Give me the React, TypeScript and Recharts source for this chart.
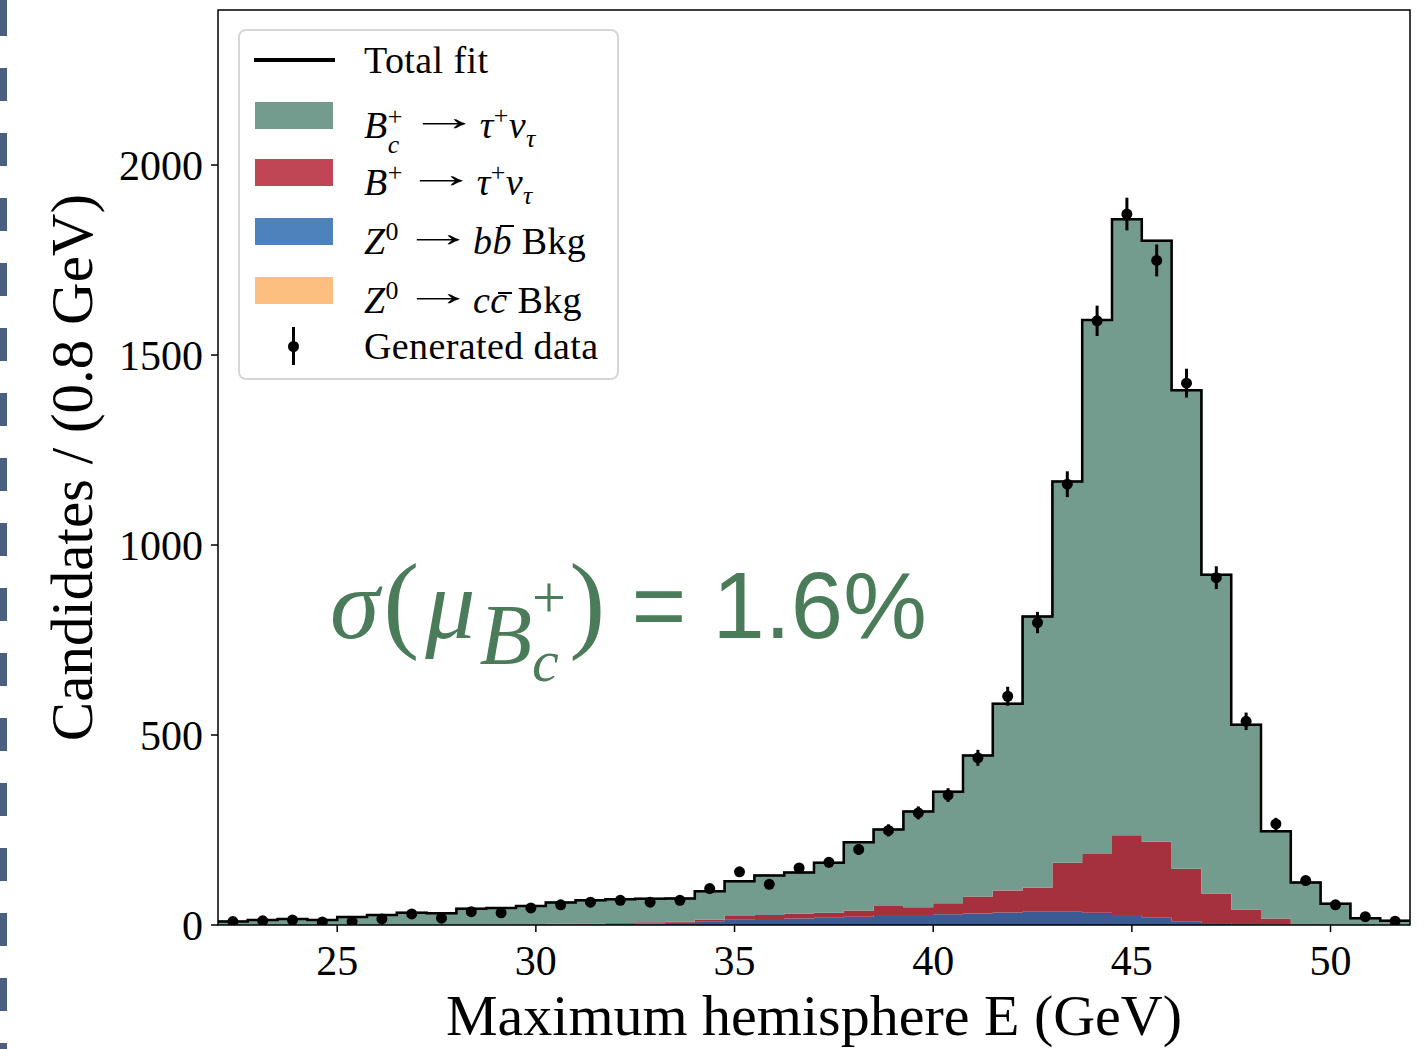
import React from "react";
import {
  ComposedChart, Area, Line, Scatter, ErrorBar, XAxis, YAxis, ReferenceArea, Label,
} from "recharts";

// 40 bins of 0.75 GeV between 22 and 52 GeV
const binStart = 22;
const binWidth = 0.75;

// stacked fit components, candidates per bin
const fitBc = [
  9, 13, 16, 13, 21, 26, 32, 31, 43, 44,
  48, 56, 61, 63, 62, 61, 75, 91, 104, 108,
  132, 180, 201, 252, 294, 371, 491, 714, 1003, 1405,
  1621, 1582, 1259, 839, 486, 230, 110, 56, 18, 11,
];
const fitBu = [
  0, 0, 0, 0, 0, 0, 0, 0, 0, 1,
  1, 2, 2, 2, 3, 3, 4, 10, 10, 13,
  13, 16, 24, 21, 29, 45, 58, 63, 129, 155,
  210, 200, 138, 78, 39, 16, 2, 0, 0, 0,
];
const fitZbb = [
  0, 0, 0, 0, 0, 0, 0, 0, 0, 0,
  1, 1, 2, 3, 4, 6, 10, 14, 16, 17,
  19, 22, 26, 26, 28, 30, 33, 35, 35, 32,
  26, 19, 10, 5, 2, 1, 0, 0, 0, 0,
];
const fitZcc = [
  0, 0, 0, 0, 0, 0, 0, 0, 0, 0,
  0, 0, 0, 0, 0, 0, 0, 0, 0, 0,
  0, 0, 0, 0, 0, 0, 0, 0, 0, 0,
  0, 0, 0, 0, 0, 0, 0, 0, 0, 0,
];

// generated pseudo-data with its errors
const dataCounts = [
  9, 11, 13, 8, 9, 16, 29, 18, 35, 32,
  45, 53, 60, 65, 60, 65, 96, 140, 107, 150,
  165, 199, 249, 295, 342, 440, 602, 796, 1160, 1590,
  1871, 1749, 1426, 914, 536, 266, 117, 53, 22, 10,
];
const dataErrors = [
  3, 3, 4, 3, 3, 4, 5, 4, 6, 6,
  7, 7, 8, 8, 8, 8, 10, 12, 10, 12,
  13, 14, 16, 17, 18, 21, 25, 28, 34, 40,
  43, 42, 38, 30, 23, 16, 11, 7, 5, 3,
];

const xTicks = [25, 30, 35, 40, 45, 50];
const yTicks = [0, 500, 1000, 1500, 2000];
const yMax = 2408;

const serif = '"Liberation Serif", "DejaVu Serif", serif';
const sans = '"Liberation Sans", Arial, sans-serif';

const nBins = fitBc.length;
// one row per bin edge; the last edge repeats the last bin so the step closes at 52
const histRows = Array.from({ length: nBins + 1 }, (_, i) => {
  const j = Math.min(i, nBins - 1);
  return {
    x: binStart + i * binWidth,
    zcc: fitZcc[j],
    zbb: fitZbb[j],
    bu: fitBu[j],
    bc: fitBc[j],
    fit: fitZcc[j] + fitZbb[j] + fitBu[j] + fitBc[j],
  };
});
const dataRows = dataCounts.map((y, i) => ({
  x: binStart + (i + 0.5) * binWidth,
  y,
  err: dataErrors[i],
}));

const tickStyle = { fill: "#000", fontSize: 42, fontFamily: serif };
const tickLine = { stroke: "#000", strokeWidth: 1.5 };

const Dot = (p: any) => <circle cx={p.cx} cy={p.cy} r={5.5} fill="#000" />;

const YLabel = (p: any) => {
  const vb = p.viewBox || { y: 10, height: 915 };
  const cy = vb.y + vb.height / 2;
  return (
    <text x={92} y={cy} transform={`rotate(-90, 92, ${cy})`} textAnchor="middle"
      style={{ fontSize: 59, fontFamily: serif, fill: "#000" }}>
      Candidates / (0.8 GeV)
    </text>
  );
};

// sub/superscript stacked on the same glyph, like B_c^+
const SupSub: React.FC<{ sup: string; sub: string; size?: string; supTop?: string; subTop?: string; width?: string }> = ({
  sup, sub, size = "0.68em", supTop = "-0.75em", subTop = "0.3em", width = "0.7em",
}) => (
  <span style={{ display: "inline-block", position: "relative", fontSize: size, width, height: "1em" }}>
    <span style={{ position: "absolute", left: 0, top: supTop, fontStyle: "normal" }}>{sup}</span>
    <span style={{ position: "absolute", left: 0, top: subTop, fontStyle: "italic" }}>{sub}</span>
  </span>
);

const Arrow = () => (
  <span style={{ display: "inline-block", position: "relative", top: "-0.2em", transform: "scaleX(1.9)", margin: "0 0.42em 0 0.52em", lineHeight: 1 }}>→</span>
);

// italic letter with a short bar, like \bar{b}
const Barred: React.FC<{ ch: string; top: string }> = ({ ch, top }) => (
  <span style={{ position: "relative", display: "inline-block", lineHeight: 1 }}>
    <i>{ch}</i>
    <span style={{ position: "absolute", left: "0.2em", top, width: "0.36em", borderTop: "0.055em solid currentColor" }} />
  </span>
);

const sm = { fontSize: "0.68em" };

const legendRows = [
  { kind: "line", color: "#000", cy: 58 },
  { kind: "box", color: "#739c8f", cy: 114 },
  { kind: "box", color: "#c14655", cy: 171 },
  { kind: "box", color: "#4e82bc", cy: 230 },
  { kind: "box", color: "#fdbf80", cy: 289 },
  { kind: "data", color: "#000", cy: 344 },
];

const legendText = [
  <span>Total fit</span>,
  <span><i>B</i><SupSub sup="+" sub="c" /><Arrow /><i>τ</i><sup style={sm}>+</sup><i>ν</i><sub style={sm}><i>τ</i></sub></span>,
  <span><i>B</i><sup style={sm}>+</sup><Arrow /><i>τ</i><sup style={sm}>+</sup><i>ν</i><sub style={sm}><i>τ</i></sub></span>,
  <span><i>Z</i><sup style={sm}>0</sup><Arrow /><i>b</i><Barred ch="b" top="0.08em" /> Bkg</span>,
  <span><i>Z</i><sup style={sm}>0</sup><Arrow /><i>c</i><Barred ch="c" top="0.3em" /> Bkg</span>,
  <span>Generated data</span>,
];

const FitLegend = () => (
  <div style={{
    position: "absolute", left: 238, top: 29, width: 381, height: 351, boxSizing: "border-box",
    border: "2px solid #d6d6d6", borderRadius: 8, background: "rgba(255,255,255,0.85)",
    fontFamily: serif, fontSize: 38, letterSpacing: 0.4, color: "#000",
  }}>
    {legendRows.map((r, i) => (
      <div key={i} style={{ position: "absolute", left: 0, top: r.cy - 29 - 25, height: 50, width: 379 }}>
        {r.kind === "line" && (
          <div style={{ position: "absolute", left: 14, top: 23, width: 81, height: 4, background: r.color }} />
        )}
        {r.kind === "box" && (
          <div style={{ position: "absolute", left: 15, top: 11, width: 78, height: 27, background: r.color }} />
        )}
        {r.kind === "data" && (
          <>
            <div style={{ position: "absolute", left: 52, top: 6, width: 3, height: 38, background: "#000" }} />
            <div style={{ position: "absolute", left: 48, top: 20, width: 11, height: 11, borderRadius: "50%", background: "#000" }} />
          </>
        )}
        <div style={{ position: "absolute", left: 124, top: 0, height: 50, lineHeight: "50px", whiteSpace: "nowrap" }}>
          {legendText[i]}
        </div>
      </div>
    ))}
  </div>
);

const Annotation = () => (
  <div style={{ position: "absolute", left: 330, top: 548, color: "#4a7c59", whiteSpace: "nowrap", lineHeight: 1 }}>
    <span style={{ fontFamily: serif, fontStyle: "italic", fontSize: 100 }}>σ</span>
    <span style={{ fontFamily: serif, fontSize: 108, marginLeft: 4 }}>(</span>
    <span style={{ fontFamily: serif, fontStyle: "italic", fontSize: 100, marginLeft: 6 }}>μ</span>
    <span style={{ fontFamily: serif, fontStyle: "italic", fontSize: 86, position: "relative", top: 26, marginLeft: 4 }}>
      B<SupSub sup="+" sub="c" size="0.7em" supTop="-0.62em" subTop="0.45em" width="0.62em" />
    </span>
    <span style={{ fontFamily: serif, fontSize: 108 }}>)</span>
    <span style={{ fontFamily: sans, fontSize: 94 }}> = 1.6%</span>
  </div>
);

const App: React.FC = () => (
  <div style={{ position: "absolute", left: 0, top: 0, width: 1424, height: 1049, background: "#fff", overflow: "hidden" }}>
    <div style={{
      position: "absolute", left: 0, top: 0, width: 7, height: 1049,
      backgroundImage: "repeating-linear-gradient(to bottom, #4b6080 0px, #4b6080 33px, transparent 33px, transparent 65px)",
      backgroundPosition: "0 3px",
    }} />
    <ComposedChart width={1424} height={1049} data={histRows} margin={{ top: 10, right: 14, bottom: 0, left: 0 }}>
      <XAxis dataKey="x" type="number" domain={[22, 52]} ticks={xTicks} interval={0} allowDataOverflow
        axisLine={false} tickLine={tickLine} tickSize={7} tickMargin={13} height={124} tick={tickStyle}>
        <Label value="Maximum hemisphere E (GeV)" position="insideBottom" offset={14}
          style={{ fill: "#000", fontSize: 58, fontFamily: serif }} />
      </XAxis>
      <YAxis type="number" domain={[0, yMax]} ticks={yTicks} interval={0} allowDataOverflow width={218}
        axisLine={false} tickLine={tickLine} tickSize={7} tickMargin={8} tick={tickStyle}>
        <Label content={YLabel} />
      </YAxis>
      <Area dataKey="zcc" stackId="s" type="stepAfter" fill="#fdbf80" fillOpacity={1} stroke="none" isAnimationActive={false} />
      <Area dataKey="zbb" stackId="s" type="stepAfter" fill="#3b5b95" fillOpacity={1} stroke="none" isAnimationActive={false} />
      <Area dataKey="bu" stackId="s" type="stepAfter" fill="#a5313f" fillOpacity={1} stroke="none" isAnimationActive={false} />
      <Area dataKey="bc" stackId="s" type="stepAfter" fill="#739c8f" fillOpacity={1} stroke="#4d6d62" strokeWidth={2} isAnimationActive={false} />
      <Line dataKey="fit" type="stepAfter" stroke="#000" strokeWidth={2.5} dot={false} activeDot={false} isAnimationActive={false} />
      <Scatter data={dataRows} dataKey="y" fill="#000" shape={Dot} isAnimationActive={false}>
        <ErrorBar dataKey="err" direction="y" width={0} stroke="#000" strokeWidth={3} />
      </Scatter>
      <ReferenceArea x1={22} x2={52} y1={0} y2={yMax} fill="none" stroke="#000" strokeWidth={1.5} ifOverflow="visible" />
    </ComposedChart>
    <FitLegend />
    <Annotation />
  </div>
);

export default App;
